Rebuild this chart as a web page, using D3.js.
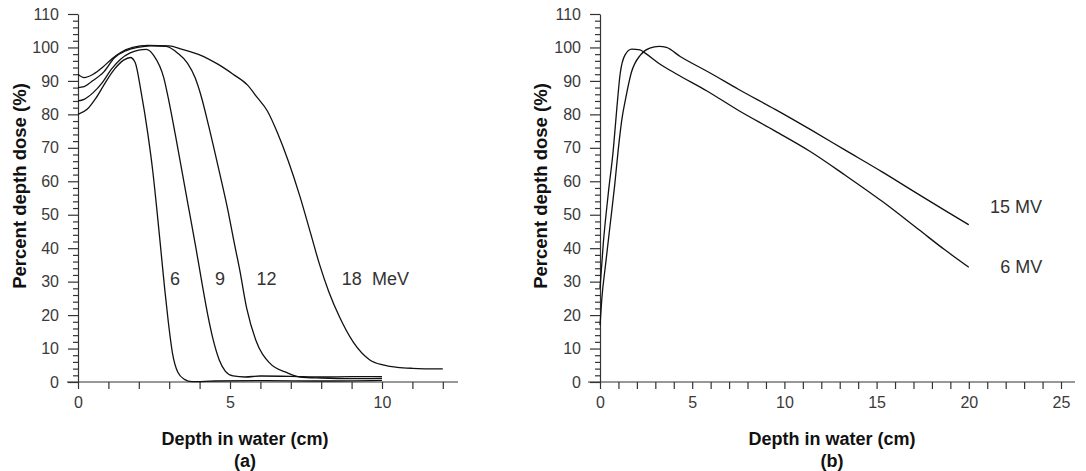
<!DOCTYPE html>
<html><head><meta charset="utf-8">
<script src="https://cdn.jsdelivr.net/npm/d3@7"></script>
<style>body{margin:0;background:#fff} text{font-family:"Liberation Sans",Arial,sans-serif}</style>
</head><body><svg id="c" width="1086" height="471"></svg>
<script>
// ---- data ----
const yMajor = [0,10,20,30,40,50,60,70,80,90,100,110];
const xTicksA = [0,1,2,3,4,5,6,7,8,9,10,11,12];
const xLabelsA = [0,5,10];
const xTicksB = d3.range(0,26);
const xLabelsB = [0,5,10,15,20,25];

// electron beams (a): [depth cm, PDD %]
const e6 = [[0,80],[0.3,81.5],[0.6,85],[0.9,89.5],[1.2,93.5],[1.5,96.2],[1.72,97],[1.88,95.5],[2.07,87],[2.3,74],[2.46,63],[2.6,51],[2.72,40],[2.85,28],[2.97,18],[3.11,8.5],[3.28,3],[3.5,0.8],[3.75,0.1],[4.5,0.3],[6,0.4],[8,0.3],[10,0.5]];
const e9 = [[0,84],[0.2,84.5],[0.5,86.5],[0.8,89.5],[1.1,93.5],[1.4,96.5],[1.7,98.3],[2.0,99.2],[2.25,99.4],[2.5,97.5],[2.82,91],[3.0,83.5],[3.2,74],[3.42,63],[3.65,51.5],[3.88,40],[4.08,29.5],[4.27,20],[4.45,12.5],[4.65,6.5],[4.85,3.2],[5.1,1.8],[5.5,1.5],[6,1.8],[7,1.7],[8,1.5],[9,1.6],[10,1.6]];
const e12 = [[0,88],[0.2,88.3],[0.43,89.7],[0.85,92.7],[1.2,96.9],[1.57,99],[1.96,100],[2.4,100.5],[2.9,100.3],[3.28,98.3],[3.6,95.3],[3.85,91],[4.05,85.5],[4.3,76.5],[4.62,64],[4.95,50.5],[5.12,42.5],[5.32,33.5],[5.55,22],[5.85,12.5],[6.3,5.7],[6.89,2.7],[7.3,1.5],[8,1.2],[9,1.0],[10,1.1]];
const e18 = [[0,92],[0.2,91],[0.5,92],[0.8,94],[1.1,96.5],[1.4,98.5],[1.8,100],[2.3,100.6],[3.0,100.5],[3.4,99.5],[4.0,97.8],[4.6,95],[5.1,92],[5.57,88.8],[5.9,85],[6.23,81],[6.56,74.5],[6.92,66],[7.3,55.5],[7.65,44.5],[7.95,35],[8.25,27],[8.6,19.5],[9.05,12],[9.6,6.6],[10.03,5.1],[10.5,4.4],[11,4.1],[12,3.9]];

// photon beams (b)
const p6 = [[0,28],[0.18,41.5],[0.45,56.4],[0.72,69.4],[0.9,81],[1.09,92],[1.36,97.8],[1.72,99.5],[2.17,99.3],[2.45,98.3],[3.26,95],[4.17,92],[5.8,87],[7.47,81.3],[9.5,75],[11.4,68.9],[13.3,61.8],[15.3,54],[17.3,45.5],[18.7,39.5],[20,34.3]];
const p15 = [[0,17],[0.1,25],[0.3,35],[0.55,47],[0.8,59],[1.0,70],[1.2,79],[1.4,85],[1.7,92.5],[2.2,97.8],[2.7,99.8],[3.2,100.3],[3.6,100],[4.35,97.3],[6.0,92.3],[7.5,87.5],[9.5,81.5],[11.4,75.5],[13.3,69.3],[15.3,62.8],[17.3,56],[18.7,51.3],[20,47]];

const labelsA = ["6","9","12","18  MeV"];
const labelsB = ["15 MV","6 MV"];

// ---- drawing ----
const svg = d3.select("#c");
const y = d3.scaleLinear().domain([0,110]).range([382,14]);
const xA = d3.scaleLinear().domain([0,10]).range([78,382]);
const xB = d3.scaleLinear().domain([0,25]).range([600,1061]);
const yMinor = d3.range(0,111,2).filter(v => v % 10 !== 0);

function panel(x, xTicks, xLabels, x0, x1, series) {
  const g = svg.append("g");
  const ax = x(0);
  g.append("g").attr("transform", `translate(${ax},0)`)
    .call(d3.axisLeft(y).tickValues(yMajor).tickSize(10).tickPadding(9).tickSizeOuter(0));
  const yM = g.append("g").attr("transform", `translate(${ax},0)`)
    .call(d3.axisLeft(y).tickValues(yMinor).tickSize(5).tickFormat("").tickSizeOuter(0));
  yM.select(".domain").remove();
  const xAx = g.append("g").attr("transform", "translate(0,382)")
    .call(d3.axisBottom(x).tickValues(xTicks).tickSize(7).tickPadding(8)
      .tickFormat(d => xLabels.includes(d) ? d : ""));
  xAx.select(".domain").remove();
  g.append("line").attr("x1", x0).attr("x2", x1).attr("y1", 382).attr("y2", 382)
    .attr("stroke", "#333").attr("stroke-width", 1.2);
  g.selectAll(".tick line").attr("stroke", "#333").attr("stroke-width", 1.2);
  g.selectAll(".domain").attr("stroke", "#333").attr("stroke-width", 1.2);
  g.selectAll(".tick text").attr("font-size", 16).attr("fill", "#3a3a3a")
    .attr("font-family", '"Liberation Sans",Arial,sans-serif');

  const line = d3.line().x(d => x(d[0])).y(d => y(d[1])).curve(d3.curveMonotoneX);
  series.forEach(s => {
    g.append("path").datum(s).attr("d", line).attr("fill", "none")
      .attr("stroke", "#111").attr("stroke-width", 1.3);
  });
  return g;
}

const gA = panel(xA, xTicksA, xLabelsA, 67, 458, [e6, e9, e12, e18]);
const gB = panel(xB, xTicksB, xLabelsB, 588, 1075, [p6, p15]);

// curve labels
const fs = 18;
const anchorsA = [[3.19,31,"middle"],[4.67,31,"middle"],[6.2,31,"middle"],[8.68,31,"start"]];
labelsA.forEach((t,i) => {
  gA.append("text").attr("x", xA(anchorsA[i][0])).attr("y", y(anchorsA[i][1]))
    .attr("dy", "0.35em").attr("text-anchor", anchorsA[i][2])
    .attr("font-size", fs).attr("fill", "#333").style("white-space","pre").text(t);
});
const anchorsB = [[21.15,52.5],[21.7,34.5]];
labelsB.forEach((t,i) => {
  gB.append("text").attr("x", xB(anchorsB[i][0])).attr("y", y(anchorsB[i][1]))
    .attr("dy", "0.35em").attr("font-size", fs).attr("fill", "#333").text(t);
});

// axis titles
function titles(cxX, cyX, tag) {
  svg.append("text").attr("x", cxX).attr("y", 445).attr("text-anchor", "middle")
    .attr("font-size", 18).attr("font-weight", "bold").attr("fill", "#111").text("Depth in water (cm)");
  svg.append("text").attr("x", cxX).attr("y", 467).attr("text-anchor", "middle")
    .attr("font-size", 18).attr("font-weight", "bold").attr("fill", "#111").text(tag);
  svg.append("text").attr("transform", `translate(${cyX},186) rotate(-90)`)
    .attr("text-anchor", "middle").attr("dy", "0.35em")
    .attr("font-size", 18.5).attr("font-weight", "bold").attr("fill", "#111").text("Percent depth dose (%)");
}
titles(245, 20, "(a)");
titles(832, 541, "(b)");
</script></body></html>
